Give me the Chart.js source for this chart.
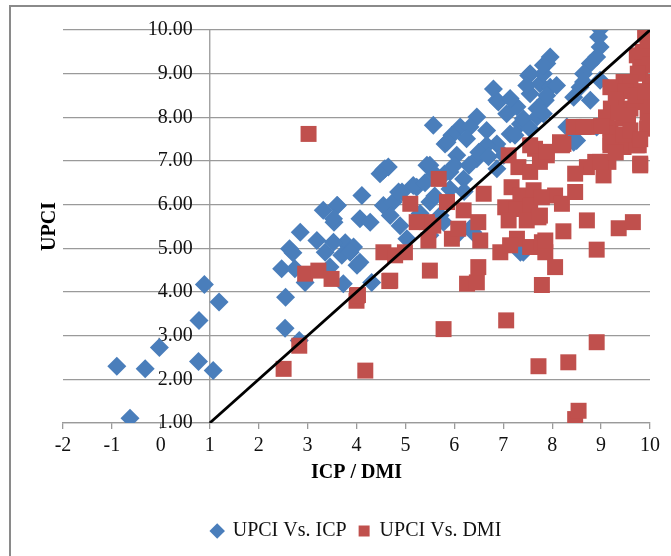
<!DOCTYPE html>
<html>
<head>
<meta charset="utf-8">
<script src="https://cdn.jsdelivr.net/npm/chart.js@4"></script>
<style>
  html, body { margin: 0; padding: 0; background: #fff; overflow: hidden; }
  #wrap { position: relative; width: 671px; height: 556px; }
  #frame { position: absolute; left: 9px; top: 5px; width: 700px; height: 600px; border: 2px solid #8a8a8a; box-sizing: border-box; }
  #chartBox { position: absolute; left: 0; top: 0; width: 671px; height: 556px; }
</style>
</head>
<body>
<div id="wrap">
  <div id="frame"></div>
  <div id="chartBox"><canvas id="chart"></canvas></div>
</div>
<script>
// UPCI vs ICP (blue diamonds)
const icpX = [
  -0.90, -0.32, -0.63, -0.03, 0.78, 0.77, 0.89, 1.19, 1.07, 2.54, 2.55, 2.83,
  2.47, 2.63, 2.70, 2.85, 2.74, 2.95, 3.19, 3.36, 3.32, 3.61, 3.54, 3.46, 3.77, 3.70,
  3.94, 4.01, 3.73, 4.11, 4.07, 4.28, 4.55, 4.65, 4.55, 4.75, 4.69, 4.89, 4.93, 5.03,
  5.23, 4.31, 5.44,
  5.57, 7.52, 6.80, 6.87, 6.46, 6.12, 5.95, 5.81, 6.32, 6.66, 7.07, 7.28, 7.55, 7.75,
  7.35, 7.69, 6.87, 7.14,
  8.98, 8.95, 8.98, 8.91, 8.78, 8.64, 8.57, 8.78, 7.89, 7.82, 7.96, 7.86, 7.82, 8.44,
  8.98, 8.91, 8.50, 8.30,
  7.96, 7.82, 7.55, 6.90, 7.14, 6.25, 5.85, 6.46, 6.66, 6.05, 5.50, 4.58, 4.48, 3.60,
  4.86, 5.16, 5.50, 5.91, 6.19, 5.91, 6.87, 7.01, 7.24, 7.41, 7.69, 7.89, 8.09, 7.48,
  8.37, 8.64, 7.55, 5.71, 5.78, 5.50, 6.05, 6.32, 7.35, 3.53, 3.53, 4.07, 3.87,
  5.40, 5.60, 5.80, 6.00, 6.30, 6.50, 6.70, 5.30, 5.60, 6.20, 7.41, 6.38, 8.44
];
const icpUPCI = [
  2.30, 2.24, 1.11, 2.73, 3.35, 2.41, 4.17, 3.77, 2.20, 3.17, 3.88, 2.89,
  4.53, 4.99, 4.90, 5.37, 4.53, 4.22, 5.18, 4.91, 5.87, 5.98, 5.60, 4.57, 5.13, 4.84,
  5.03, 4.61, 4.19, 6.21, 5.68, 5.60, 6.79, 6.86, 5.98, 6.06, 5.75, 5.52, 6.29, 5.22,
  6.40, 4.22, 6.90,
  7.82, 8.96, 8.65, 8.39, 8.01, 7.78, 7.59, 7.39, 7.78, 7.70, 8.08, 8.24, 8.54, 8.77,
  7.85, 8.01, 7.39, 7.62,
  10.02, 9.84, 9.61, 9.38, 9.23, 9.00, 8.69, 8.39, 9.23, 9.00, 8.69, 8.39, 8.08, 8.46,
  8.85, 7.78, 7.47, 7.78,
  9.38, 9.19, 9.00, 8.35, 8.43, 7.51, 7.43, 7.05, 7.36, 7.13, 6.90, 6.82, 6.71, 5.98,
  6.29, 6.44, 6.06, 6.36, 6.59, 6.75, 6.82, 7.13, 7.59, 7.97, 8.20, 8.50, 8.73, 8.73,
  7.74, 8.81, 7.74, 5.75, 5.60, 5.30, 5.30, 5.45, 4.91, 5.68, 5.14, 4.68, 4.91,
  6.50, 6.20, 6.70, 6.90, 6.90, 7.20, 7.10, 5.80, 6.70, 6.30, 4.91, 5.37, 7.43
];

// UPCI vs DMI (red squares)
const dmiX = [
  3.02, 2.83, 2.51, 4.18, 5.78, 7.06, 7.72, 8.33, 8.91, 8.47, 8.54, 4.00, 4.03, 4.67,
  6.26, 6.46, 7.79,
  5.68, 5.85, 6.19, 6.60, 5.44, 5.57, 5.95, 6.08, 6.49, 6.53, 5.47, 5.50, 6.49, 7.11,
  7.31, 7.55, 7.17, 7.35, 7.62, 7.04, 7.28, 7.55, 7.72, 7.11, 7.48, 7.28, 6.94, 7.14,
  7.55, 7.79, 7.86, 7.65, 7.75,
  9.19, 9.46, 9.77, 8.88, 9.15, 8.71, 9.05, 9.80, 8.47, 8.47, 8.06, 8.20, 7.79, 7.75,
  8.71, 9.36, 9.65, 8.23, 7.86, 8.91, 8.06, 7.89, 8.20,
  5.10, 5.23, 4.55, 4.79, 4.99, 4.69, 2.95, 3.22, 3.49, 4.01,
  7.55, 7.89, 8.23, 8.44, 8.71, 9.19, 9.32, 9.46, 9.80, 9.94, 10.00, 9.73, 9.87, 9.60,
  9.94, 9.39, 9.73, 9.19, 8.98, 9.80, 9.46, 10.00, 10.00, 8.16, 8.64, 9.19, 9.32,
  9.90, 9.85, 10.00, 9.75, 9.60, 9.50, 9.30, 9.20, 9.10, 9.00, 9.35, 9.55, 9.70, 9.90,
  9.95, 10.00, 9.45, 9.60, 9.80, 9.30, 10.00, 9.95
];
const dmiUPCI = [
  7.62, 2.77, 2.24, 2.20, 3.15, 3.35, 2.30, 2.39, 2.85, 1.09, 1.28, 3.80, 3.93, 4.25,
  4.19, 4.22, 4.16,
  6.59, 6.06, 5.87, 6.25, 5.60, 5.52, 5.22, 5.45, 5.60, 5.18, 5.18, 4.49, 4.57, 7.13,
  6.86, 6.75, 6.40, 6.21, 6.33, 5.94, 5.90, 5.98, 5.71, 5.64, 5.64, 5.22, 4.91, 5.07,
  5.03, 5.14, 4.91, 7.28, 6.98,
  7.36, 7.32, 7.36, 6.98, 6.98, 6.86, 6.67, 6.94, 6.71, 6.29, 6.21, 6.02, 6.17, 5.75,
  5.64, 5.46, 5.60, 5.39, 5.18, 4.97, 4.57, 7.13, 7.36,
  6.02, 5.60, 4.91, 4.84, 4.91, 4.26, 4.42, 4.49, 4.30, 3.92,
  7.36, 7.21, 7.39, 7.78, 7.78, 7.74, 8.58, 8.81, 9.11, 9.96, 9.65, 9.42, 8.35, 8.20,
  7.74, 7.43, 7.36, 7.43, 6.98, 6.90, 7.97, 8.81, 9.34, 7.43, 7.78, 8.69, 8.31,
  9.90, 9.50, 9.20, 9.00, 8.80, 8.60, 8.40, 8.20, 8.00, 7.80, 8.10, 8.05, 8.50, 8.60,
  8.10, 7.90, 7.60, 7.70, 7.50, 7.20, 10.00, 9.75
];

// 1:1 reference line
const lineX = [1, 10];
const lineY = [1, 10];

// vertical axis crosses the horizontal one at x = 1
const axisX = [1, 1];
const axisY = [1, 10];

const toPoints = (xs, ys) => xs.map((x, i) => ({x: x, y: ys[i]}));

const FONT = "'Liberation Serif', 'Times New Roman', serif";
const BLUE = '#4a7ebb';
const RED = '#c0504d';
const GRID = '#9a9a9a';

const cfg = {
  type: 'scatter',
  data: {
    datasets: [{
      label: 'UPCI Vs. ICP',
      data: toPoints(icpX, icpUPCI),
      pointStyle: 'rectRot',
      pointRadius: 9.5,
      backgroundColor: BLUE,
      borderColor: BLUE,
      borderWidth: 0,
      order: 2
    }, {
      label: 'UPCI Vs. DMI',
      data: toPoints(dmiX, dmiUPCI),
      pointStyle: 'rect',
      pointRadius: 11.3,
      backgroundColor: RED,
      borderColor: RED,
      borderWidth: 0,
      order: 1
    }, {
      type: 'line',
      label: 'line',
      data: toPoints(lineX, lineY),
      borderColor: '#000',
      borderWidth: 2.8,
      pointRadius: 0,
      fill: false,
      order: 0
    }, {
      type: 'line',
      label: 'axis',
      data: toPoints(axisX, axisY),
      borderColor: GRID,
      borderWidth: 1.3,
      pointRadius: 0,
      fill: false,
      order: 3
    }]
  },
  options: {
    responsive: true,
    maintainAspectRatio: false,
    animation: false,
    layout: {padding: {left: 10, right: 21, top: 30, bottom: 5}},
    plugins: {
      tooltip: {enabled: false},
      legend: {
        position: 'bottom',
        fullSize: false,
        labels: {
          usePointStyle: true,
          boxHeight: 11,
          boxWidth: 11,
          padding: 12,
          color: '#111',
          font: {family: FONT, size: 20},
          filter: (item) => item.text !== 'line' && item.text !== 'axis',
          sort: (a, b) => a.datasetIndex - b.datasetIndex
        }
      }
    },
    scales: {
      x: {
        type: 'linear',
        position: 'bottom',
        min: -2,
        max: 10,
        ticks: {stepSize: 1, padding: 5, color: '#111', font: {family: FONT, size: 20}},
        grid: {drawOnChartArea: false, drawTicks: true, tickLength: 6, color: GRID, lineWidth: 1.3},
        border: {display: true, color: GRID, width: 1.3},
        title: {display: true, text: 'ICP / DMI', color: '#000', padding: {top: -2, bottom: 24},
          font: {family: FONT, size: 20, weight: 'bold'}}
      },
      y: {
        type: 'linear',
        position: {x: 0.65},
        min: 1,
        max: 10,
        ticks: {stepSize: 1, color: '#111', font: {family: FONT, size: 20},
          callback: (v) => v.toFixed(2)},
        grid: {color: GRID, lineWidth: 1.3, drawTicks: false},
        border: {display: false}
      },
      ytitle: {
        type: 'linear',
        axis: 'y',
        position: 'left',
        ticks: {display: false},
        grid: {display: false},
        border: {display: false},
        title: {display: true, text: 'UPCI', color: '#000', padding: {top: 28, bottom: 0},
          font: {family: FONT, size: 20, weight: 'bold'}},
        afterFit: (scale) => { scale.width = 53; }
      }
    }
  }
};

const chart = new Chart(document.getElementById('chart'), cfg);
</script>
</body>
</html>
